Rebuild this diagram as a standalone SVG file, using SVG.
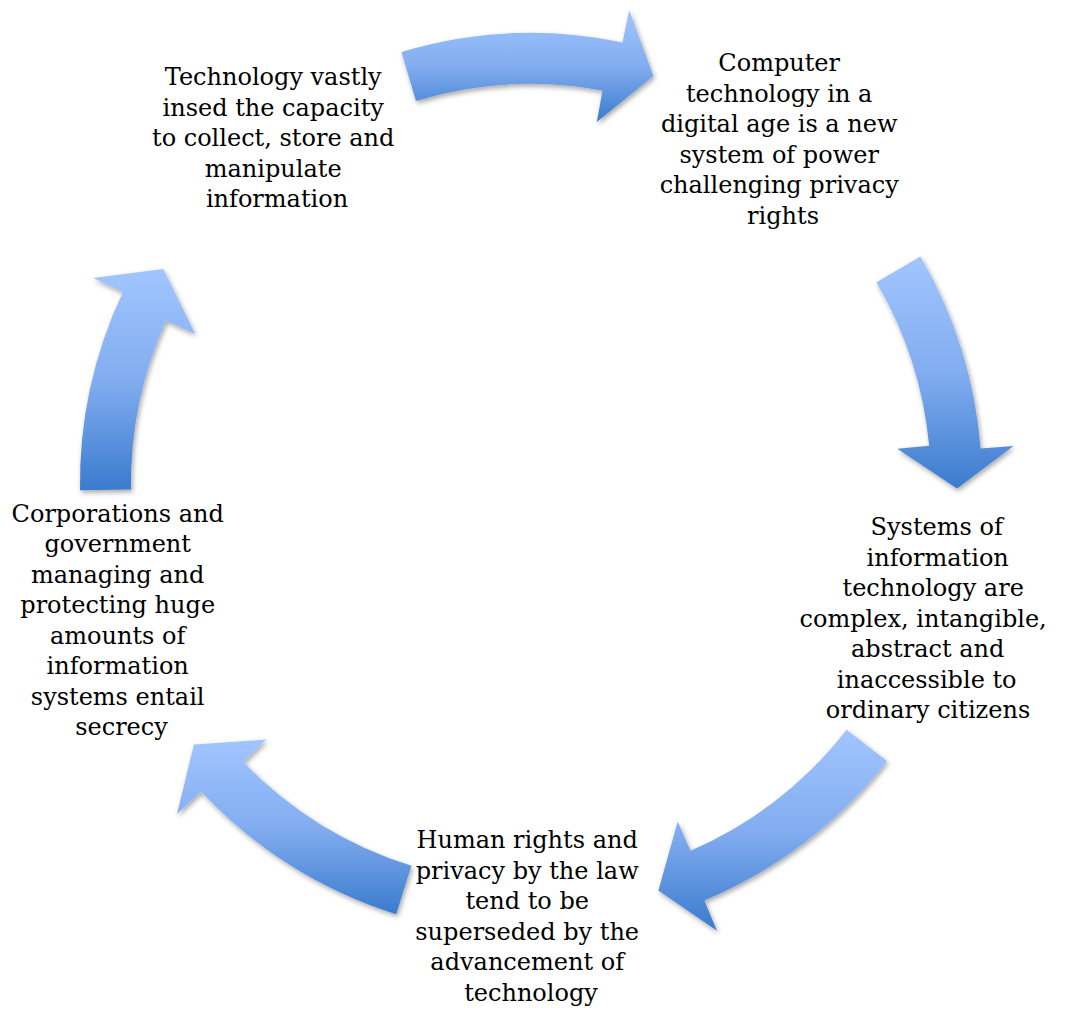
<svg xmlns="http://www.w3.org/2000/svg" width="1070" height="1009" viewBox="0 0 1070 1009">
  <defs>
    <linearGradient id="blueFill" x1="0" y1="0" x2="0" y2="1">
      <stop offset="0" stop-color="#a1c5ff"/>
      <stop offset="0.5" stop-color="#82adf0"/>
      <stop offset="1" stop-color="#3b7bcd"/>
    </linearGradient>
    <filter id="softShadow" x="-20%" y="-20%" width="140%" height="140%">
      <feDropShadow dx="1.5" dy="2.5" stdDeviation="2.5" flood-color="#000" flood-opacity="0.35"/>
    </filter>
  </defs>
  <style>
    .arrow { fill: url(#blueFill); filter: url(#softShadow); }
    .label { font-family: "DejaVu Serif", "Liberation Serif", serif; font-size: 24px; fill: #000; text-anchor: middle; }
  </style>
  <rect width="1070" height="1009" fill="#fff"/>

  <!-- curved arrows around the cycle, all on one circle centred at (531,484) -->
  <g id="connectors">
    <path class="arrow" d="M401.4 52 A451 451 0 0 1 622.5 42.4 L629.2 10.1 L653.4 76 L596.8 121.9 L602.5 90.4 A400 400 0 0 0 416 100.9 Z"/>
    <path class="arrow" d="M920.4 256.5 A451 451 0 0 1 980.6 448.6 L1013.5 446 L957 488.5 L897.3 448.7 L929.2 445.7 A400 400 0 0 0 876.4 282.2 Z"/>
    <path class="arrow" d="M886.9 761 A451 451 0 0 1 704.3 900.4 L717 930.8 L658.4 890.5 L677.7 821.5 L690.5 850.8 A400 400 0 0 0 846.6 729.7 Z"/>
    <path class="arrow" d="M396.2 914.3 A451 451 0 0 1 201.1 791.6 L177 814.1 L193.9 744.5 L266.3 739.6 L243.3 761.9 A400 400 0 0 0 411.4 865.7 Z"/>
    <path class="arrow" d="M80 490.3 A451 451 0 0 1 122.9 292 L93.1 277.9 L163.2 269.1 L195.1 333.7 L165.9 320.7 A400 400 0 0 0 131 489.6 Z"/>
  </g>

  <g id="node-capacity">
    <text class="label">
      <tspan x="277" y="85">Technology vastly</tspan>
      <tspan x="277" y="115.5">insed the capacity</tspan>
      <tspan x="277" y="146">to collect, store and</tspan>
      <tspan x="277" y="176.5">manipulate</tspan>
      <tspan x="277" y="207">information</tspan>
    </text>
  </g>

  <g id="node-power">
    <text class="label">
      <tspan x="783" y="71">Computer</tspan>
      <tspan x="783" y="101.5">technology in a</tspan>
      <tspan x="783" y="132">digital age is a new</tspan>
      <tspan x="783" y="162.5">system of power</tspan>
      <tspan x="783" y="193">challenging privacy</tspan>
      <tspan x="783" y="223.5">rights</tspan>
    </text>
  </g>

  <g id="node-complexity">
    <text class="label">
      <tspan x="940.5" y="535">Systems of</tspan>
      <tspan x="941.5" y="565.5">information</tspan>
      <tspan x="937" y="596">technology are</tspan>
      <tspan x="927" y="626.5">complex, intangible,</tspan>
      <tspan x="931.5" y="657">abstract and</tspan>
      <tspan x="930.5" y="687.5">inaccessible to</tspan>
      <tspan x="928" y="718">ordinary citizens</tspan>
    </text>
  </g>

  <g id="node-law">
    <text class="label">
      <tspan x="531" y="848">Human rights and</tspan>
      <tspan x="531" y="878.5">privacy by the law</tspan>
      <tspan x="531" y="909">tend to be</tspan>
      <tspan x="531" y="939.5">superseded by the</tspan>
      <tspan x="531" y="970">advancement of</tspan>
      <tspan x="531" y="1000.5">technology</tspan>
    </text>
  </g>

  <g id="node-secrecy">
    <text class="label">
      <tspan x="121.5" y="521.5">Corporations and</tspan>
      <tspan x="121.5" y="552">government</tspan>
      <tspan x="121.5" y="582.5">managing and</tspan>
      <tspan x="121.5" y="613">protecting huge</tspan>
      <tspan x="121.5" y="643.5">amounts of</tspan>
      <tspan x="121.5" y="674">information</tspan>
      <tspan x="121.5" y="704.5">systems entail</tspan>
      <tspan x="121.5" y="735">secrecy</tspan>
    </text>
  </g>
</svg>
